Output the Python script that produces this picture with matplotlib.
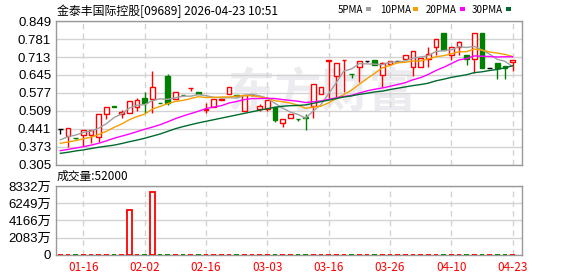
import matplotlib
matplotlib.use('Agg')
import matplotlib.pyplot as plt
from matplotlib.patches import Rectangle

plt.rcParams['font.family'] = ['Noto Sans CJK SC', 'DejaVu Sans']

# daily candles (60 sessions)
opens = [0.440, 0.415, 0.407, 0.417, 0.417, 0.410, 0.496, 0.527, 0.498, 0.500,
         0.523, 0.557, 0.553, 0.541, 0.641, 0.553, 0.570, 0.596, 0.582, 0.513,
         0.523, 0.552, 0.572, 0.570, 0.510, 0.569, 0.518, 0.517, 0.523, 0.465,
         0.484, 0.479, 0.488, 0.528, 0.573, 0.699, 0.642, 0.701, 0.649, 0.676,
         0.699, 0.701, 0.645, 0.688, 0.699, 0.704, 0.674, 0.674, 0.707, 0.752,
         0.802, 0.721, 0.752, 0.721, 0.704, 0.802, 0.672, 0.689, 0.679, 0.694]
highs = [0.440, 0.444, 0.407, 0.437, 0.437, 0.498, 0.525, 0.527, 0.513, 0.548,
         0.557, 0.580, 0.661, 0.541, 0.649, 0.580, 0.570, 0.596, 0.582, 0.538,
         0.553, 0.554, 0.598, 0.570, 0.569, 0.569, 0.536, 0.551, 0.523, 0.478,
         0.496, 0.479, 0.496, 0.611, 0.598, 0.701, 0.689, 0.701, 0.649, 0.699,
         0.699, 0.701, 0.695, 0.699, 0.699, 0.721, 0.737, 0.708, 0.750, 0.780,
         0.802, 0.750, 0.772, 0.721, 0.802, 0.802, 0.672, 0.689, 0.679, 0.701]
lows = [0.421, 0.374, 0.405, 0.377, 0.387, 0.393, 0.478, 0.523, 0.481, 0.500,
        0.510, 0.500, 0.500, 0.539, 0.530, 0.553, 0.568, 0.585, 0.572, 0.500,
        0.523, 0.552, 0.572, 0.567, 0.510, 0.569, 0.510, 0.510, 0.469, 0.450,
        0.484, 0.470, 0.437, 0.482, 0.573, 0.557, 0.557, 0.582, 0.633, 0.620,
        0.694, 0.683, 0.601, 0.688, 0.699, 0.704, 0.642, 0.674, 0.674, 0.721,
        0.739, 0.702, 0.721, 0.683, 0.651, 0.672, 0.672, 0.630, 0.630, 0.661]
closes = [0.440, 0.444, 0.406, 0.437, 0.437, 0.498, 0.525, 0.523, 0.506, 0.548,
          0.551, 0.538, 0.598, 0.539, 0.540, 0.580, 0.568, 0.596, 0.572, 0.517,
          0.553, 0.554, 0.598, 0.567, 0.569, 0.569, 0.526, 0.551, 0.475, 0.478,
          0.496, 0.479, 0.481, 0.611, 0.598, 0.701, 0.689, 0.701, 0.649, 0.699,
          0.699, 0.683, 0.689, 0.699, 0.699, 0.721, 0.737, 0.708, 0.723, 0.780,
          0.739, 0.750, 0.769, 0.705, 0.802, 0.672, 0.672, 0.672, 0.670, 0.701]

# moving averages as drawn
ma5 = [0.400, 0.412, 0.418, 0.428, 0.433, 0.444, 0.461, 0.484, 0.498, 0.520,
       0.531, 0.533, 0.548, 0.555, 0.553, 0.559, 0.565, 0.565, 0.571, 0.567,
       0.561, 0.558, 0.559, 0.558, 0.568, 0.572, 0.566, 0.557, 0.538, 0.520,
       0.505, 0.496, 0.482, 0.509, 0.533, 0.574, 0.616, 0.660, 0.668, 0.688,
       0.687, 0.686, 0.684, 0.694, 0.694, 0.698, 0.709, 0.713, 0.718, 0.734,
       0.737, 0.740, 0.752, 0.749, 0.753, 0.740, 0.724, 0.704, 0.697, 0.677]
ma10 = [0.387, 0.392, 0.397, 0.404, 0.410, 0.420, 0.432, 0.447, 0.460, 0.476,
        0.488, 0.497, 0.516, 0.526, 0.537, 0.545, 0.549, 0.556, 0.563, 0.560,
        0.560, 0.562, 0.562, 0.565, 0.567, 0.567, 0.562, 0.558, 0.548, 0.544,
        0.539, 0.531, 0.519, 0.524, 0.527, 0.540, 0.556, 0.571, 0.588, 0.610,
        0.631, 0.651, 0.672, 0.681, 0.691, 0.693, 0.698, 0.698, 0.706, 0.714,
        0.718, 0.725, 0.733, 0.733, 0.743, 0.739, 0.732, 0.728, 0.723, 0.715]
ma20 = [0.359, 0.364, 0.369, 0.374, 0.380, 0.387, 0.396, 0.406, 0.414, 0.422,
        0.431, 0.440, 0.448, 0.457, 0.468, 0.480, 0.490, 0.499, 0.508, 0.518,
        0.524, 0.529, 0.539, 0.545, 0.552, 0.556, 0.556, 0.557, 0.556, 0.552,
        0.549, 0.546, 0.541, 0.544, 0.547, 0.553, 0.559, 0.564, 0.568, 0.577,
        0.585, 0.591, 0.596, 0.602, 0.609, 0.616, 0.627, 0.635, 0.647, 0.662,
        0.674, 0.688, 0.702, 0.707, 0.717, 0.716, 0.715, 0.713, 0.714, 0.714]
ma30 = [0.349, 0.353, 0.358, 0.362, 0.367, 0.372, 0.376, 0.380, 0.386, 0.393,
        0.399, 0.406, 0.414, 0.422, 0.432, 0.442, 0.450, 0.457, 0.464, 0.470,
        0.476, 0.482, 0.488, 0.494, 0.500, 0.506, 0.512, 0.518, 0.523, 0.527,
        0.529, 0.530, 0.532, 0.538, 0.544, 0.550, 0.556, 0.562, 0.566, 0.572,
        0.576, 0.581, 0.584, 0.590, 0.595, 0.600, 0.605, 0.609, 0.614, 0.623,
        0.629, 0.636, 0.641, 0.646, 0.654, 0.657, 0.662, 0.666, 0.672, 0.680]

# volume in 万 (almost all zero)
volume = [0, 0, 0, 0, 0, 0, 0, 0, 0, 5466,
          0, 0, 7634, 0, 0, 0, 0, 0, 0, 0,
          0, 0, 0, 0, 0, 0, 0, 0, 0, 0,
          0, 0, 0, 0, 0, 0, 0, 0, 0, 0,
          0, 0, 0, 0, 0, 0, 0, 0, 0, 0,
          0, 0, 0, 0, 0, 0, 0, 0, 0, 0]

date_pos = [3, 11, 19, 27, 35, 43, 51, 59]
date_labels = ['01-16', '02-02', '02-16', '03-03', '03-16', '03-26', '04-10', '04-23']
price_ticks = [0.305, 0.373, 0.441, 0.509, 0.577, 0.645, 0.713, 0.781, 0.849]
vol_ticks = [0, 2083, 4166, 6249, 8332]
vol_labels = ['0', '2083万', '4166万', '6249万', '8332万']

RED = '#ff0000'
GREEN = '#008000'
GRID = '#d3d3d3'
FRAME = '#999999'
num_font = ['Liberation Sans', 'Noto Sans CJK SC']

fig = plt.figure(figsize=(5.78, 2.76), dpi=100)
ax = fig.add_axes([0.0969, 0.4022, 0.8062, 0.5217])
axv = fig.add_axes([0.0969, 0.0761, 0.8062, 0.25])

n = len(closes)
colors = []
for i in range(n):
    if closes[i] > opens[i]:
        colors.append(RED)
    elif closes[i] < opens[i]:
        colors.append(GREEN)
    elif i > 0 and closes[i] > closes[i - 1]:
        colors.append(RED)
    elif i > 0 and closes[i] < closes[i - 1]:
        colors.append(GREEN)
    else:
        colors.append('black')

# watermark
ax.text(0.57, 0.50, '东方财富', transform=ax.transAxes, fontsize=34,
        fontweight='bold', color='#ececf0', ha='center', va='center', zorder=0)

for i in range(n):
    o, h, l, c = opens[i], highs[i], lows[i], closes[i]
    top, bot = max(o, c), min(o, c)
    col = colors[i]
    face = 'white' if col == RED and top > bot else col
    ax.bar(i, top - bot, bottom=bot, width=0.6, facecolor=face,
           edgecolor=col, linewidth=1, zorder=3)
    if h > top:
        ax.vlines(i, top, h, color=col, linewidth=1, zorder=3)
    if l < bot:
        ax.vlines(i, l, bot, color=col, linewidth=1, zorder=3)

xs = list(range(n))
ax.plot(xs, ma5, color='#a0a0a0', lw=1, zorder=4)
ax.plot(xs, ma10, color='#f5a000', lw=1, zorder=4)
ax.plot(xs, ma20, color='#ff00ff', lw=1, zorder=4)
ax.plot(xs, ma30, color='#006a2e', lw=1, zorder=4)

# volume
for i in range(n):
    col = colors[i] if colors[i] != 'black' else RED
    face = 'white' if col == RED else col
    axv.bar(i, volume[i], width=0.6, facecolor=face, edgecolor=col,
            linewidth=1.3, zorder=3)

for a in (ax, axv):
    a.set_xlim(-0.56, 60.23)
    a.set_xticks(date_pos)
    a.grid(axis='x', color=GRID, linestyle=(0, (4, 3)), linewidth=1, zorder=1)
    a.grid(axis='y', color=GRID, linestyle='-', linewidth=1, zorder=1)
    a.set_axisbelow(True)
    for s in a.spines.values():
        s.set_color(FRAME)
        s.set_linewidth(1)
    a.tick_params(length=0)

ax.set_ylim(0.305, 0.849)
ax.set_yticks(price_ticks)
ax.set_yticklabels(['%.3f' % v for v in price_ticks], family=num_font, fontsize=9.5)
ax.set_xticklabels([])

axv.set_ylim(0, 8332)
axv.set_yticks(vol_ticks)
axv.set_yticklabels(vol_labels, family=num_font, fontsize=9.5)
axv.set_xticklabels(date_labels, color=RED, fontsize=8.5)
axv.tick_params(axis='x', pad=4)

# title and legend
fig.text(0.0986, 0.960, '金泰丰国际控股[09689] 2026-04-23 10:51', fontsize=8.6,
         va='center', ha='left')
legend = [('5PMA', 338, '#a0a0a0'), ('10PMA', 380, '#f5a000'),
          ('20PMA', 426, '#ff00ff'), ('30PMA', 472, '#006a2e')]
for label, px, col in legend:
    fig.text(px / 578, 0.965, label, fontsize=7, va='center', ha='left')
lx = [366, 413, 460, 506]
for (label, px, col), sx in zip(legend, lx):
    fig.patches.append(Rectangle((sx / 578, 1 - 11 / 276), 5 / 578, 4 / 276,
                                 transform=fig.transFigure, facecolor=col,
                                 edgecolor='none'))

fig.text(0.0986, 0.360, '成交量:52000', fontsize=8.5, va='center', ha='left')

fig.savefig('out.png', dpi=100)
